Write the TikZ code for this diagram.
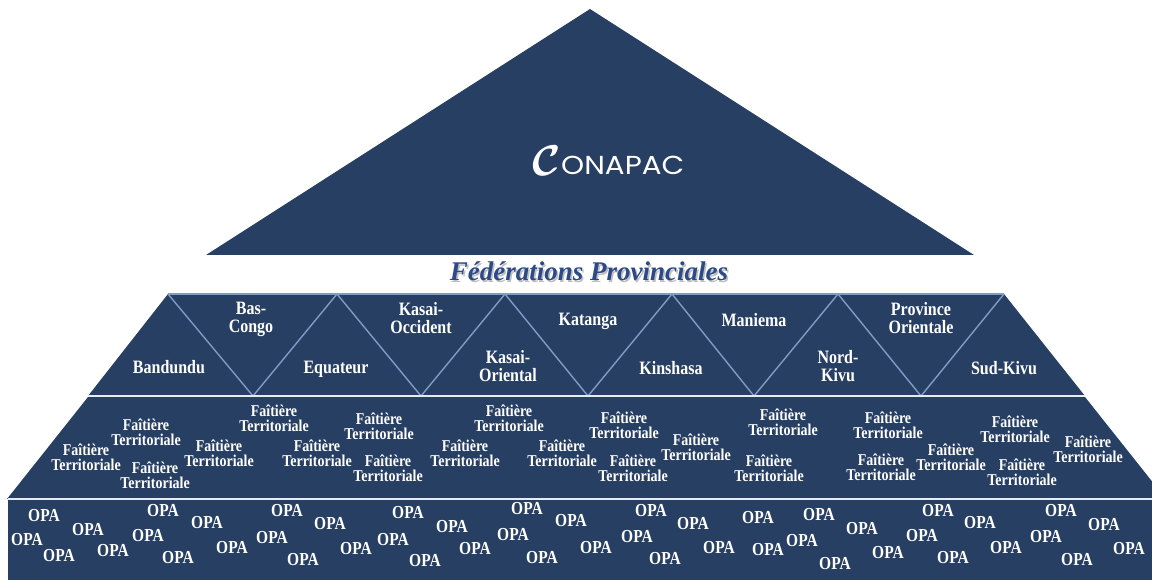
\documentclass[tikz,border=0pt]{standalone}
\usepackage{fontspec}
\setmainfont{Liberation Serif}
\newfontfamily\geosans{Poppins}
\definecolor{navy}{RGB}{39,63,99}
\definecolor{edgeblue}{RGB}{128,155,198}
\definecolor{fedblue}{RGB}{44,74,135}
% stretched, centred text block
\newcommand\tb[1]{\scalebox{1}[1.18]{\begin{tabular}{@{}c@{}}#1\end{tabular}}}
\begin{document}
\begin{tikzpicture}[x=1pt,y=-1pt,
  prov/.style={text=white,inner sep=0pt,font=\bfseries\fontsize{16}{14}\selectfont},
  fait/.style={text=white,inner sep=0pt,font=\bfseries\fontsize{14}{11.5}\selectfont},
  opa/.style={text=white,inner sep=0pt,font=\bfseries\fontsize{15.5}{14}\selectfont},
  divider/.style={draw=edgeblue,line width=1.4pt},
  sepline/.style={draw=white!80!edgeblue,line width=2pt}]
\useasboundingbox (0,0) rectangle (1152,580);
\clip (0,0) rectangle (1152,580);

% national level
\fill[navy] (590,9) -- (974,255) -- (206,255) -- cycle;
\node[text=white,inner sep=0pt] (c) at (547,161) {\scalebox{4.3}{\boldmath$\mathcal{C}$}};
\node[text=white,inner sep=0pt,anchor=base west,font=\geosans\fontsize{26}{26}\selectfont]
  (onapac) at (561,175) {\scalebox{1.13}[1]{ONAPAC}};

\node[text=black!25,inner sep=0pt,anchor=base,font=\bfseries\itshape\fontsize{27}{27}\selectfont]
  (fedshadow) at (590.5,282.5) {Fédérations Provinciales};
\node[text=fedblue,inner sep=0pt,anchor=base,font=\bfseries\itshape\fontsize{27}{27}\selectfont]
  (fed) at (589,281) {Fédérations Provinciales};

% provincial band
\fill[navy] (88,396) -- (168,294) -- (1004,294) -- (1085,396) -- cycle;
\draw[divider] (168,294) -- (1004,294);
\draw[divider] (168,294) -- (253,396) -- (337,294) -- (421,396) -- (505,294) -- (588,396)
  -- (672,294) -- (754,396) -- (838,294) -- (921,396) -- (1004,294);

\node[prov] (p1) at (169,369) {\tb{Bandundu}};
\node[prov] (p2) at (251,320) {\tb{Bas-\\Congo}};
\node[prov] (p3) at (336,370) {\tb{Equateur}};
\node[prov] (p4) at (421,320) {\tb{Kasai-\\Occident}};
\node[prov] (p5) at (508,368) {\tb{Kasai-\\Oriental}};
\node[prov] (p6) at (588,322) {\tb{Katanga}};
\node[prov] (p7) at (671,370) {\tb{Kinshasa}};
\node[prov] (p8) at (754,322) {\tb{Maniema}};
\node[prov] (p9) at (838,368) {\tb{Nord-\\Kivu}};
\node[prov] (p10) at (921,320) {\tb{Province\\Orientale}};
\node[prov] (p11) at (1004,370) {\tb{Sud-Kivu}};

% territorial band
\fill[navy] (88,397) -- (1085,397) -- (1166,499) -- (7,499) -- cycle;
\draw[sepline] (88,396) -- (1085,396);

\foreach \x/\y [count=\i] in {86/459,146/434,155/477,219/455,274/420,317/455,379/428,388/470,
  465/455,509/420,562/455,624/427,633/470,696/449,783/424,769/470,888/427,881/469,
  951/459,1015/431,1022/474,1088/451}
  \node[fait] (f\i) at (\x,\y) {\tb{Faîtière\\Territoriale}};

% base level
\fill[navy] (8,500) rectangle (1160,585);
\draw[sepline] (8,499) -- (1160,499);

\foreach \x/\y [count=\i] in {44/518,88/532,27/542,59/558,113/553,163/513,148/538,178/560,
  207/525,232/550,272/540,287/513,303/562,330/526,356/551,408/515,393/542,425/563,
  452/529,475/551,527/511,513/537,542/560,571/523,596/550,637/539,651/513,665/561,
  693/526,719/550,758/520,768/552,802/543,819/517,835/566,862/531,888/555,922/538,
  938/513,953/560,980/525,1006/550,1046/539,1061/513,1077/562,1104/527,1129/551}
  \node[opa] (o\i) at (\x,\y) {\tb{OPA}};
\end{tikzpicture}
\end{document}
